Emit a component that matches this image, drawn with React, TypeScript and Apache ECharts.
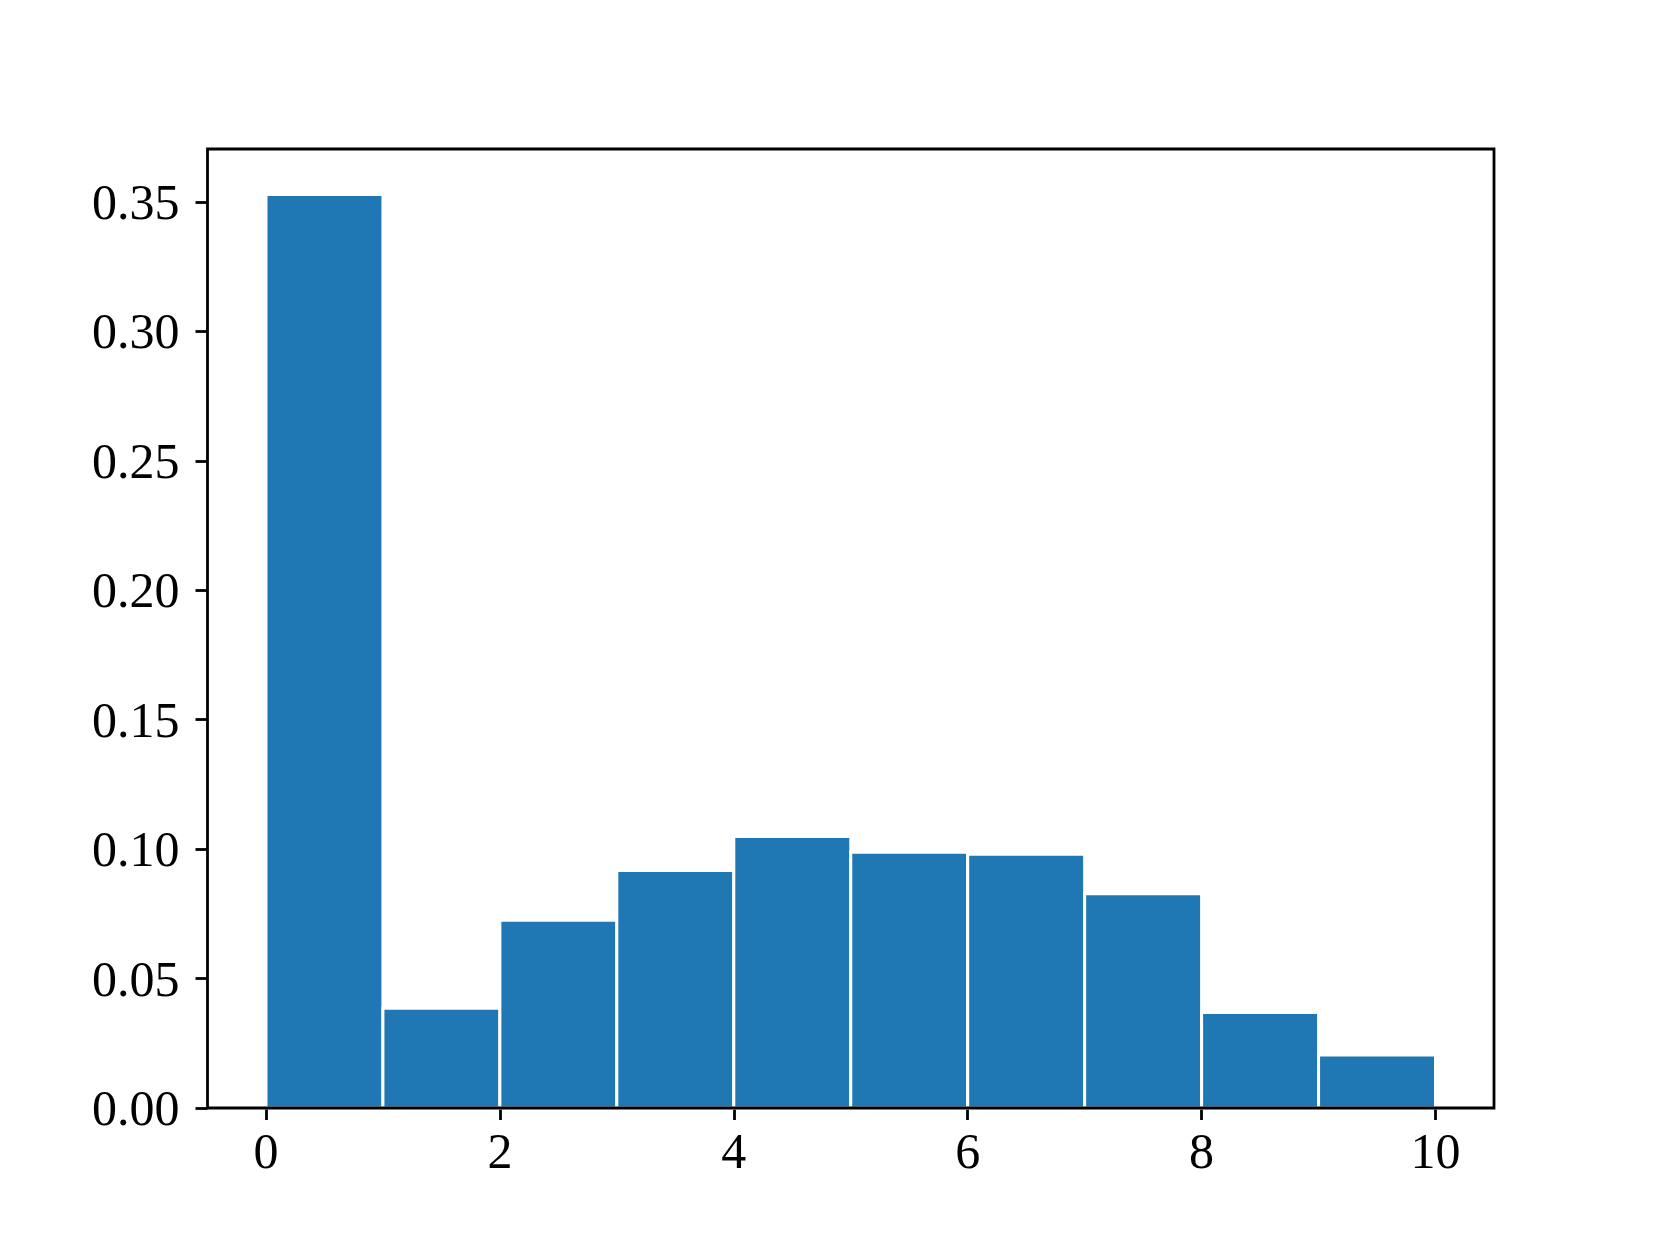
import React, { useEffect, useRef } from "react";
import * as echarts from "echarts";

const binEdges = [0, 1, 2, 3, 4, 5, 6, 7, 8, 9, 10];
const densities = [0.3529, 0.0385, 0.0725, 0.0918, 0.1049, 0.0988, 0.098, 0.0828, 0.0369, 0.0205];
const xTicks = [0, 2, 4, 6, 8, 10];
const yTicks = [0, 0.05, 0.1, 0.15, 0.2, 0.25, 0.3, 0.35];

const FONT = "'Liberation Serif', 'DejaVu Serif', serif";

export default function App() {
  const ref = useRef<HTMLDivElement>(null);
  useEffect(() => {
    if (!ref.current) return;
    const chart = echarts.init(ref.current, undefined, { renderer: "svg" });
    const bars = densities.map((v, i) => [binEdges[i], binEdges[i + 1], v]);
    chart.setOption({
      animation: false,
      backgroundColor: "#ffffff",
      grid: {
        left: 207.5,
        right: 166,
        top: 149,
        bottom: 137,
        show: true,
        borderColor: "#000000",
        borderWidth: 2.8,
        backgroundColor: "transparent",
        z: 10,
      },
      xAxis: {
        type: "value",
        min: -0.5,
        max: 10.5,
        splitLine: { show: false },
        axisLine: { show: false, onZero: false },
        axisTick: {
          show: true,
          length: 12,
          inside: false,
          customValues: xTicks,
          lineStyle: { color: "#000", width: 2.8 },
        },
        axisLabel: {
          customValues: xTicks,
          margin: 18,
          fontFamily: FONT,
          fontSize: 50,
          color: "#000",
          formatter: (v: number) => String(v),
        },
      },
      yAxis: {
        type: "value",
        min: 0,
        max: 0.3705,
        splitLine: { show: false },
        axisLine: { show: false, onZero: false },
        axisTick: {
          show: true,
          length: 12,
          inside: false,
          customValues: yTicks,
          lineStyle: { color: "#000", width: 2.8 },
        },
        axisLabel: {
          customValues: yTicks,
          margin: 28,
          fontFamily: FONT,
          fontSize: 50,
          color: "#000",
          formatter: (v: number) => v.toFixed(2),
        },
      },
      series: [
        {
          type: "custom",
          data: bars,
          encode: { x: [0, 1], y: 2 },
          renderItem: (params: any, api: any) => {
            const x0 = api.value(0);
            const x1 = api.value(1);
            const v = api.value(2);
            const p0 = api.coord([x0, v]);
            const p1 = api.coord([x1, 0]);
            return {
              type: "rect",
              shape: { x: p0[0], y: p0[1], width: p1[0] - p0[0], height: p1[1] - p0[1] },
              style: { fill: "#1f77b4", stroke: "#ffffff", lineWidth: 3 },
            };
          },
        },
      ],
    });
    return () => chart.dispose();
  }, []);
  return (
    <div
      ref={ref}
      style={{ position: "absolute", left: 0, top: 0, width: 1660, height: 1245 }}
    />
  );
}
